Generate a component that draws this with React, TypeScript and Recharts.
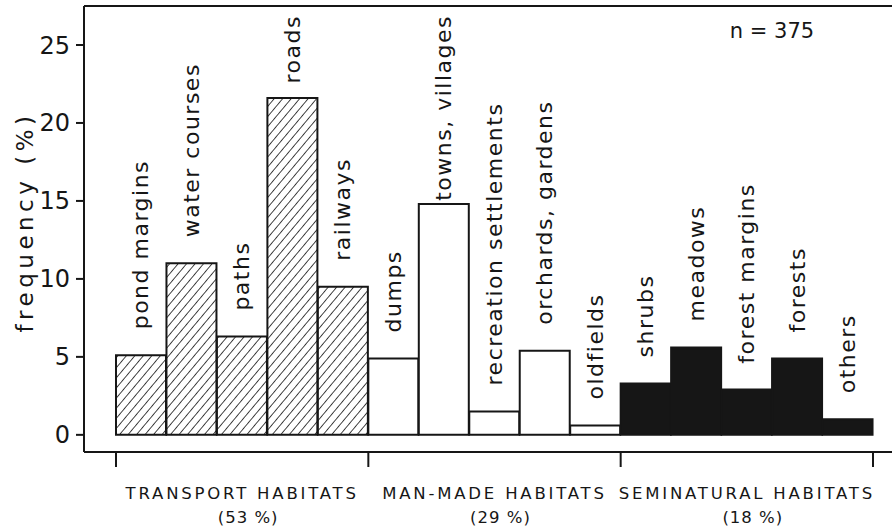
import React from 'react';
import { BarChart, Bar, XAxis, YAxis, Cell, LabelList, ReferenceLine } from 'recharts';

const categories = [
  'pond margins', 'water courses', 'paths', 'roads', 'railways',
  'dumps', 'towns, villages', 'recreation settlements', 'orchards, gardens', 'oldfields',
  'shrubs', 'meadows', 'forest margins', 'forests', 'others',
];
const frequencies = [5.1, 11.0, 6.3, 21.6, 9.5, 4.9, 14.8, 1.5, 5.4, 0.6, 3.3, 5.6, 2.9, 4.9, 1.0];
const groupNames = ['TRANSPORT HABITATS', 'MAN-MADE HABITATS', 'SEMINATURAL HABITATS'];
const groupShares = ['(53 %)', '(29 %)', '(18 %)'];
const groupSizes = [5, 5, 5];
const yTicks = [0, 5, 10, 15, 20, 25];
const sampleSize = 375;

const INK = '#161616';
const FONT = 'DejaVu Sans';
const Y_MIN = -1.1;
const Y_MAX = 27.5;
const LABEL_SIZE = 22;
const LABEL_SPACING = 1.5;
const PAD = { left: 32, right: 19 };
const CHART_W = 892;
const Y_AXIS_W = 84;

const groupStarts = groupSizes.map((_, i) => groupSizes.slice(0, i).reduce((a, b) => a + b, 0));
const groupOf = (i: number) => groupStarts.filter((s) => s <= i).length - 1;

const data = categories.map((name, i) => ({ name, value: frequencies[i], group: groupOf(i) }));

const fills = ['url(#hatch)', '#ffffff', INK];

let ctx: CanvasRenderingContext2D | null = null;
const textWidth = (s: string) => {
  if (!ctx) ctx = document.createElement('canvas').getContext('2d');
  if (!ctx) return s.length * 13;
  ctx.font = `${LABEL_SIZE}px "${FONT}"`;
  return ctx.measureText(s).width + LABEL_SPACING * s.length;
};

const BarName = (props: any) => {
  const { x, y, width, value } = props;
  const cx = Number(x) + Number(width) / 2;
  const start = Number(y) - 26;
  const len = textWidth(String(value));
  const clamp = start - len < 15;
  const py = clamp ? 15 : start;
  return (
    <text
      x={cx}
      y={py}
      transform={`rotate(-90 ${cx} ${py})`}
      textAnchor={clamp ? 'end' : 'start'}
      dominantBaseline="central"
      fontFamily={FONT}
      fontSize={LABEL_SIZE}
      letterSpacing={LABEL_SPACING}
      fill={INK}
    >
      {value}
    </text>
  );
};

// one tick per bar; draws group boundaries and group captions
const GroupTick = (props: any) => {
  const { x, y, payload, index } = props;
  const i = payload?.index ?? index;
  const band = (CHART_W - Y_AXIS_W - PAD.left - PAD.right) / data.length;
  const half = payload?.offset || band / 2;
  const g = data[i].group;
  const first = groupStarts[g];
  const size = groupSizes[g];
  const parts: React.ReactNode[] = [];
  if (i === first) {
    parts.push(<line key="l" x1={x - half} x2={x - half} y1={y} y2={y + 15} stroke={INK} strokeWidth={2} />);
  }
  if (i === data.length - 1) {
    parts.push(<line key="r" x1={x + half} x2={x + half} y1={y} y2={y + 15} stroke={INK} strokeWidth={2} />);
  }
  if (i === first + Math.floor(size / 2)) {
    const cx = size % 2 === 1 ? x : x - half;
    parts.push(
      <g key="t" fontFamily={FONT} fill={INK} textAnchor="middle">
        <text x={cx} y={y + 47} fontSize={16.5} letterSpacing={2.8}>{groupNames[g]}</text>
        <text x={cx + 6} y={y + 71} fontSize={16.5} letterSpacing={1}>{groupShares[g]}</text>
      </g>
    );
  }
  return <g>{parts}</g>;
};

export default function App() {
  return (
    <div style={{ position: 'absolute', left: 0, top: 0, background: '#fff' }}>
      <BarChart
        width={CHART_W}
        height={528}
        data={data}
        barCategoryGap={0}
        margin={{ top: 6, right: 0, left: 0, bottom: 0 }}
      >
        <defs>
          <pattern id="hatch" width="6.5" height="6.5" patternUnits="userSpaceOnUse" patternTransform="rotate(40)">
            <rect width="6.5" height="6.5" fill="#fff" />
            <line x1="0" y1="0" x2="0" y2="6.5" stroke={INK} strokeWidth={1.6} />
          </pattern>
        </defs>
        <XAxis
          dataKey="name"
          interval={0}
          height={76}
          padding={PAD}
          axisLine={{ stroke: INK, strokeWidth: 2 }}
          tickLine={false}
          tickSize={0}
          tickMargin={0}
          tick={<GroupTick />}
        />
        <YAxis
          type="number"
          width={Y_AXIS_W}
          domain={[Y_MIN, Y_MAX]}
          allowDataOverflow
          ticks={yTicks}
          interval={0}
          tickSize={8}
          tickMargin={6}
          axisLine={{ stroke: INK, strokeWidth: 2 }}
          tickLine={{ stroke: INK, strokeWidth: 2 }}
          tick={{ fill: INK, fontSize: 24, fontFamily: FONT }}
        />
        <ReferenceLine y={Y_MAX} stroke={INK} strokeWidth={2} />
        <Bar dataKey="value" stroke={INK} strokeWidth={2} isAnimationActive={false}>
          {data.map((d, i) => (
            <Cell key={i} fill={fills[d.group]} />
          ))}
          <LabelList dataKey="name" content={<BarName />} />
        </Bar>
        <text
          x={25}
          y={222}
          transform="rotate(-90 25 222)"
          textAnchor="middle"
          dominantBaseline="central"
          fontFamily={FONT}
          fontSize={23}
          letterSpacing={4.5}
          fill={INK}
        >
          frequency (%)
        </text>
        <text x={772} y={38} textAnchor="middle" fontFamily={FONT} fontSize={21} fill={INK}>
          {`n = ${sampleSize}`}
        </text>
      </BarChart>
    </div>
  );
}
